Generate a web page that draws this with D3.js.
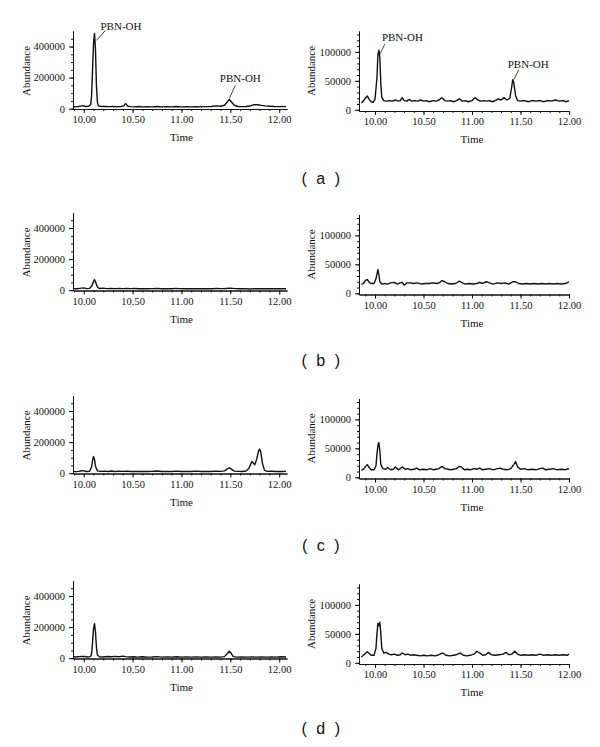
<!DOCTYPE html>
<html>
<head>
<meta charset="utf-8">
<script src="https://cdn.jsdelivr.net/npm/d3@7"></script>
<style>
  body { margin: 0; background: #fff; }
  svg { display: block; }
  .axis text { font-family: "Liberation Serif", "DejaVu Serif", serif; font-size: 10.5px; fill: #111; }
  .axis path, .axis line { stroke: #111; stroke-width: 1; }
  .title { font-family: "Liberation Serif", "DejaVu Serif", serif; font-size: 11px; fill: #111; }
  .tag { font-family: "Liberation Sans", Arial, sans-serif; font-size: 16px; fill: #111; letter-spacing: 2.5px; }
  .trace { fill: none; stroke: #111; stroke-width: 1.4; stroke-linejoin: round; }
</style>
</head>
<body>
<svg width="600" height="747"></svg>
<script>
// chromatogram traces [time, abundance]
var aLeft = [[9.89,14000],[9.92,12000],[9.95,14000],[9.98,18000],[10.00,20000],[10.02,14000],[10.05,16000],[10.07,25000],[10.08,80000],[10.09,250000],[10.10,420000],[10.11,485000],[10.12,380000],[10.13,150000],[10.14,40000],[10.15,18000],[10.18,14000],[10.22,15000],[10.26,13000],[10.30,14000],[10.34,12000],[10.38,14000],[10.41,18000],[10.43,33000],[10.45,16000],[10.48,13000],[10.52,12000],[10.56,14000],[10.60,12000],[10.65,13000],[10.70,12000],[10.75,14000],[10.80,12000],[10.85,13000],[10.90,12000],[10.95,14000],[11.00,12000],[11.05,13000],[11.10,12000],[11.15,13000],[11.20,12000],[11.25,13000],[11.30,14000],[11.35,18000],[11.40,16000],[11.44,22000],[11.47,45000],[11.49,60000],[11.51,45000],[11.54,22000],[11.58,14000],[11.62,13000],[11.66,14000],[11.70,17000],[11.74,26000],[11.78,25000],[11.82,21000],[11.86,18000],[11.90,16000],[11.95,14000],[12.00,13000],[12.04,14000],[12.07,13000]];
var aRight = [[9.86,12000],[9.88,15000],[9.90,20000],[9.92,24000],[9.94,18000],[9.96,14000],[9.98,13000],[10.00,18000],[10.02,55000],[10.03,95000],[10.04,103000],[10.05,90000],[10.06,45000],[10.07,22000],[10.09,16000],[10.12,15000],[10.15,16000],[10.18,15000],[10.21,17000],[10.24,15000],[10.26,16000],[10.28,21000],[10.30,16000],[10.33,15000],[10.35,18000],[10.38,15000],[10.41,16000],[10.44,15000],[10.47,17000],[10.50,15000],[10.53,16000],[10.56,14000],[10.60,16000],[10.63,15000],[10.66,17000],[10.69,21000],[10.72,16000],[10.75,15000],[10.78,16000],[10.81,14000],[10.84,16000],[10.87,19000],[10.90,15000],[10.93,16000],[10.96,14000],[11.00,16000],[11.03,21000],[11.06,17000],[11.09,15000],[11.12,16000],[11.15,15000],[11.18,16000],[11.21,14000],[11.24,16000],[11.27,19000],[11.30,17000],[11.33,21000],[11.36,17000],[11.39,20000],[11.41,40000],[11.42,52000],[11.43,48000],[11.45,24000],[11.47,16000],[11.50,15000],[11.54,16000],[11.58,14000],[11.62,16000],[11.66,15000],[11.70,16000],[11.74,14000],[11.78,16000],[11.82,15000],[11.86,17000],[11.90,15000],[11.94,16000],[11.97,14000],[12.00,16000]];
var bLeft = [[9.89,10000],[9.93,9000],[9.96,12000],[10.00,15000],[10.03,10000],[10.06,12000],[10.08,25000],[10.10,55000],[10.11,68000],[10.12,55000],[10.14,20000],[10.16,11000],[10.20,13000],[10.24,10000],[10.28,12000],[10.32,10000],[10.36,12000],[10.40,10000],[10.44,11000],[10.48,10000],[10.52,12000],[10.56,9000],[10.60,10000],[10.65,9000],[10.70,10000],[10.75,12000],[10.80,9000],[10.85,10000],[10.90,9000],[10.94,12000],[10.98,10000],[11.02,9000],[11.07,10000],[11.12,9000],[11.17,10000],[11.22,9000],[11.27,10000],[11.32,9000],[11.36,12000],[11.40,10000],[11.45,11000],[11.50,13000],[11.55,10000],[11.60,9000],[11.65,10000],[11.70,8000],[11.75,10000],[11.80,9000],[11.85,10000],[11.90,9000],[11.95,10000],[12.00,9000],[12.04,10000],[12.07,9000]];
var bRight = [[9.86,15000],[9.88,17000],[9.90,22000],[9.92,24000],[9.94,19000],[9.96,17000],[9.99,17000],[10.01,25000],[10.03,41000],[10.04,32000],[10.05,20000],[10.07,16000],[10.10,17000],[10.13,16000],[10.16,18000],[10.20,19000],[10.23,16000],[10.26,18000],[10.28,19000],[10.30,14000],[10.33,18000],[10.36,18000],[10.40,17000],[10.44,18000],[10.48,16000],[10.52,17000],[10.56,17000],[10.60,18000],[10.64,17000],[10.67,19000],[10.69,22000],[10.72,20000],[10.75,17000],[10.79,16000],[10.83,17000],[10.87,21000],[10.90,18000],[10.93,16000],[10.97,17000],[11.01,16000],[11.05,17000],[11.08,19000],[11.11,17000],[11.15,20000],[11.18,18000],[11.22,16000],[11.26,18000],[11.30,17000],[11.34,18000],[11.38,16000],[11.42,20000],[11.45,20000],[11.48,17000],[11.52,16000],[11.56,17000],[11.60,16000],[11.64,17000],[11.68,16000],[11.72,17000],[11.76,16000],[11.80,17000],[11.84,16000],[11.88,17000],[11.92,16000],[11.96,17000],[11.99,19000],[12.00,20000]];
var cLeft = [[9.89,12000],[9.92,10000],[9.95,12000],[9.98,16000],[10.00,15000],[10.03,11000],[10.06,12000],[10.08,40000],[10.09,80000],[10.10,108000],[10.11,90000],[10.12,45000],[10.14,15000],[10.17,12000],[10.21,13000],[10.25,11000],[10.28,14000],[10.32,11000],[10.36,13000],[10.40,12000],[10.44,13000],[10.48,11000],[10.52,12000],[10.56,11000],[10.60,12000],[10.65,11000],[10.70,12000],[10.75,14000],[10.80,11000],[10.85,12000],[10.90,11000],[10.95,13000],[11.00,11000],[11.05,12000],[11.10,11000],[11.15,13000],[11.20,11000],[11.25,12000],[11.30,11000],[11.35,13000],[11.40,12000],[11.44,15000],[11.47,28000],[11.49,35000],[11.51,26000],[11.54,13000],[11.58,12000],[11.62,11000],[11.66,14000],[11.69,30000],[11.71,60000],[11.72,75000],[11.74,62000],[11.75,55000],[11.77,90000],[11.79,145000],[11.80,155000],[11.81,140000],[11.83,60000],[11.85,18000],[11.88,12000],[11.92,13000],[11.96,11000],[12.00,12000],[12.04,11000],[12.07,12000]];
var cRight = [[9.86,12000],[9.88,14000],[9.90,18000],[9.92,22000],[9.94,17000],[9.96,13000],[9.99,13000],[10.01,20000],[10.02,40000],[10.03,55000],[10.04,60000],[10.05,45000],[10.06,22000],[10.08,15000],[10.11,14000],[10.13,17000],[10.16,13000],[10.19,14000],[10.21,18000],[10.24,13000],[10.26,15000],[10.28,18000],[10.31,14000],[10.34,15000],[10.37,13000],[10.40,14000],[10.43,16000],[10.46,13000],[10.50,14000],[10.53,13000],[10.57,15000],[10.60,13000],[10.63,14000],[10.66,15000],[10.69,19000],[10.72,15000],[10.75,14000],[10.78,13000],[10.81,14000],[10.84,15000],[10.87,19000],[10.89,18000],[10.92,13000],[10.95,14000],[10.98,13000],[11.02,15000],[11.05,14000],[11.08,16000],[11.11,13000],[11.14,14000],[11.18,15000],[11.22,13000],[11.26,15000],[11.29,16000],[11.32,14000],[11.36,13000],[11.40,15000],[11.43,22000],[11.45,27000],[11.47,18000],[11.50,14000],[11.54,15000],[11.58,13000],[11.62,14000],[11.66,13000],[11.70,15000],[11.73,16000],[11.76,13000],[11.80,14000],[11.84,15000],[11.88,13000],[11.92,14000],[11.96,13000],[11.99,15000],[12.00,14000]];
var dLeft = [[9.89,9000],[9.92,8000],[9.95,10000],[9.98,12000],[10.01,11000],[10.04,8000],[10.07,10000],[10.08,30000],[10.09,100000],[10.10,190000],[10.11,222000],[10.12,170000],[10.13,70000],[10.14,20000],[10.16,9000],[10.20,8000],[10.24,11000],[10.28,9000],[10.32,12000],[10.36,9000],[10.40,13000],[10.43,10000],[10.47,8000],[10.51,9000],[10.55,7000],[10.60,9000],[10.65,7000],[10.70,8000],[10.75,10000],[10.80,7000],[10.85,8000],[10.90,7000],[10.95,9000],[11.00,7000],[11.05,8000],[11.10,7000],[11.15,8000],[11.20,7000],[11.25,8000],[11.30,7000],[11.35,8000],[11.40,7000],[11.44,10000],[11.47,30000],[11.49,45000],[11.51,30000],[11.53,10000],[11.57,7000],[11.62,8000],[11.67,7000],[11.72,8000],[11.77,7000],[11.82,8000],[11.87,7000],[11.92,8000],[11.97,7000],[12.02,9000],[12.07,8000]];
var dRight = [[9.86,10000],[9.88,13000],[9.90,16000],[9.92,19000],[9.94,16000],[9.96,13000],[9.99,13000],[10.01,25000],[10.02,50000],[10.03,68000],[10.04,64000],[10.05,70000],[10.06,50000],[10.07,25000],[10.09,17000],[10.12,18000],[10.14,15000],[10.17,14000],[10.20,15000],[10.23,13000],[10.26,14000],[10.28,17000],[10.31,14000],[10.34,15000],[10.37,13000],[10.40,14000],[10.43,13000],[10.47,12000],[10.50,13000],[10.54,12000],[10.58,13000],[10.62,12000],[10.66,14000],[10.70,17000],[10.73,13000],[10.77,12000],[10.81,13000],[10.84,14000],[10.88,17000],[10.91,13000],[10.95,12000],[10.98,13000],[11.02,15000],[11.05,20000],[11.08,17000],[11.11,13000],[11.14,14000],[11.17,18000],[11.20,14000],[11.24,13000],[11.28,14000],[11.32,15000],[11.35,18000],[11.38,14000],[11.41,15000],[11.44,20000],[11.47,15000],[11.50,13000],[11.54,14000],[11.58,13000],[11.62,14000],[11.66,13000],[11.70,15000],[11.74,13000],[11.78,14000],[11.82,13000],[11.86,14000],[11.90,13000],[11.94,14000],[11.98,13000],[12.00,15000]];

var rowTags = ["( a )", "( b )", "( c )", "( d )"];
var timeTicks = [10.00, 10.50, 11.00, 11.50, 12.00];
var leftAbundTicks = [0, 200000, 400000];
var rightAbundTicks = [0, 50000, 100000];
// peak labels: row, side, time, abundance of the peak
var peakLabels = [
  {row: 0, side: "L", t: 10.11, v: 485000, text: "PBN-OH"},
  {row: 0, side: "L", t: 11.49, v: 60000, text: "PBN-OH"},
  {row: 0, side: "R", t: 10.04, v: 103000, text: "PBN-OH"},
  {row: 0, side: "R", t: 11.42, v: 52000, text: "PBN-OH"}
];

var traces = [[aLeft, aRight], [bLeft, bRight], [cLeft, cRight], [dLeft, dRight]];

var svg = d3.select("svg");
var leftTops = [31, 212.5, 395.5, 580.5],
    rightTops = [31, 214.5, 398.5, 584],
    tagY = [184, 366, 551, 734];

// leader line / text offsets for each peak label (px)
var labelOffsets = [
  {x1: 2, y1: 7, x2: 11, y2: -3, tx: 6, ty: -3, anchor: "start"},
  {x1: 0, y1: -1, x2: 6, y2: -14, tx: 11, ty: -17, anchor: "middle"},
  {x1: 1, y1: 4, x2: 6, y2: -6, tx: 3, ty: -9, anchor: "start"},
  {x1: 1, y1: 0, x2: 6, y2: -10, tx: -5, ty: -12, anchor: "start"}
];

function panel(data, top, side, rowIdx) {
  var left = side === "L";
  var x = left ? d3.scaleLinear().domain([9.89, 12.08]).range([73, 287])
               : d3.scaleLinear().domain([9.835, 12.0]).range([359, 569]);
  var y = left ? d3.scaleLinear().domain([-2000, 500000]).range([top + 78, top])
               : d3.scaleLinear().domain([-2000, 136000]).range([top + 80, top]);
  var x0 = x.range()[0], yb = y.range()[0];
  var g = svg.append("g");

  // minor ticks
  var minorT = d3.range(9.9, x.domain()[1] + 0.001, 0.1).filter(function(t) { return t >= x.domain()[0]; });
  g.append("g").attr("class", "axis")
    .attr("transform", "translate(0," + yb + ")")
    .call(d3.axisBottom(x).tickValues(minorT).tickSize(2).tickFormat("").tickSizeOuter(0));
  var yStep = left ? 50000 : 10000;
  g.append("g").attr("class", "axis")
    .attr("transform", "translate(" + x0 + ",0)")
    .call(d3.axisLeft(y).tickValues(d3.range(0, y.domain()[1], yStep)).tickSize(2).tickFormat("").tickSizeOuter(0));

  // major axes
  g.append("g").attr("class", "axis")
    .attr("transform", "translate(0," + yb + ")")
    .call(d3.axisBottom(x).tickValues(timeTicks).tickFormat(d3.format(".2f")).tickSize(4).tickSizeOuter(0));
  g.append("g").attr("class", "axis")
    .attr("transform", "translate(" + x0 + ",0)")
    .call(d3.axisLeft(y).tickValues(left ? leftAbundTicks : rightAbundTicks).tickFormat(d3.format("d")).tickSize(4).tickPadding(4).tickSizeOuter(0));

  g.append("text").attr("class", "title")
    .attr("x", x(11.0)).attr("y", yb + 32)
    .attr("text-anchor", "middle").text("Time");
  g.append("text").attr("class", "title")
    .attr("transform", "translate(" + (left ? 30 : 315) + "," + (top + 40) + ") rotate(-90)")
    .attr("text-anchor", "middle").text("Abundance");

  var line = d3.line().x(function(d) { return x(d[0]); }).y(function(d) { return y(d[1]); });
  g.append("path").attr("class", "trace").attr("d", line(data));

  peakLabels.forEach(function(p, i) {
    if (p.row !== rowIdx || p.side !== side) return;
    var o = labelOffsets[i], px = x(p.t), py = y(p.v);
    g.append("line").attr("x1", px + o.x1).attr("y1", py + o.y1)
      .attr("x2", px + o.x2).attr("y2", py + o.y2)
      .attr("stroke", "#111").attr("stroke-width", 0.8);
    g.append("text").attr("class", "title")
      .attr("x", px + o.tx).attr("y", py + o.ty)
      .attr("text-anchor", o.anchor).text(p.text);
  });
}

traces.forEach(function(pair, i) {
  panel(pair[0], leftTops[i], "L", i);
  panel(pair[1], rightTops[i], "R", i);
  svg.append("text").attr("class", "tag")
    .attr("x", 322).attr("y", tagY[i])
    .attr("text-anchor", "middle").text(rowTags[i]);
});
</script>
</body>
</html>
